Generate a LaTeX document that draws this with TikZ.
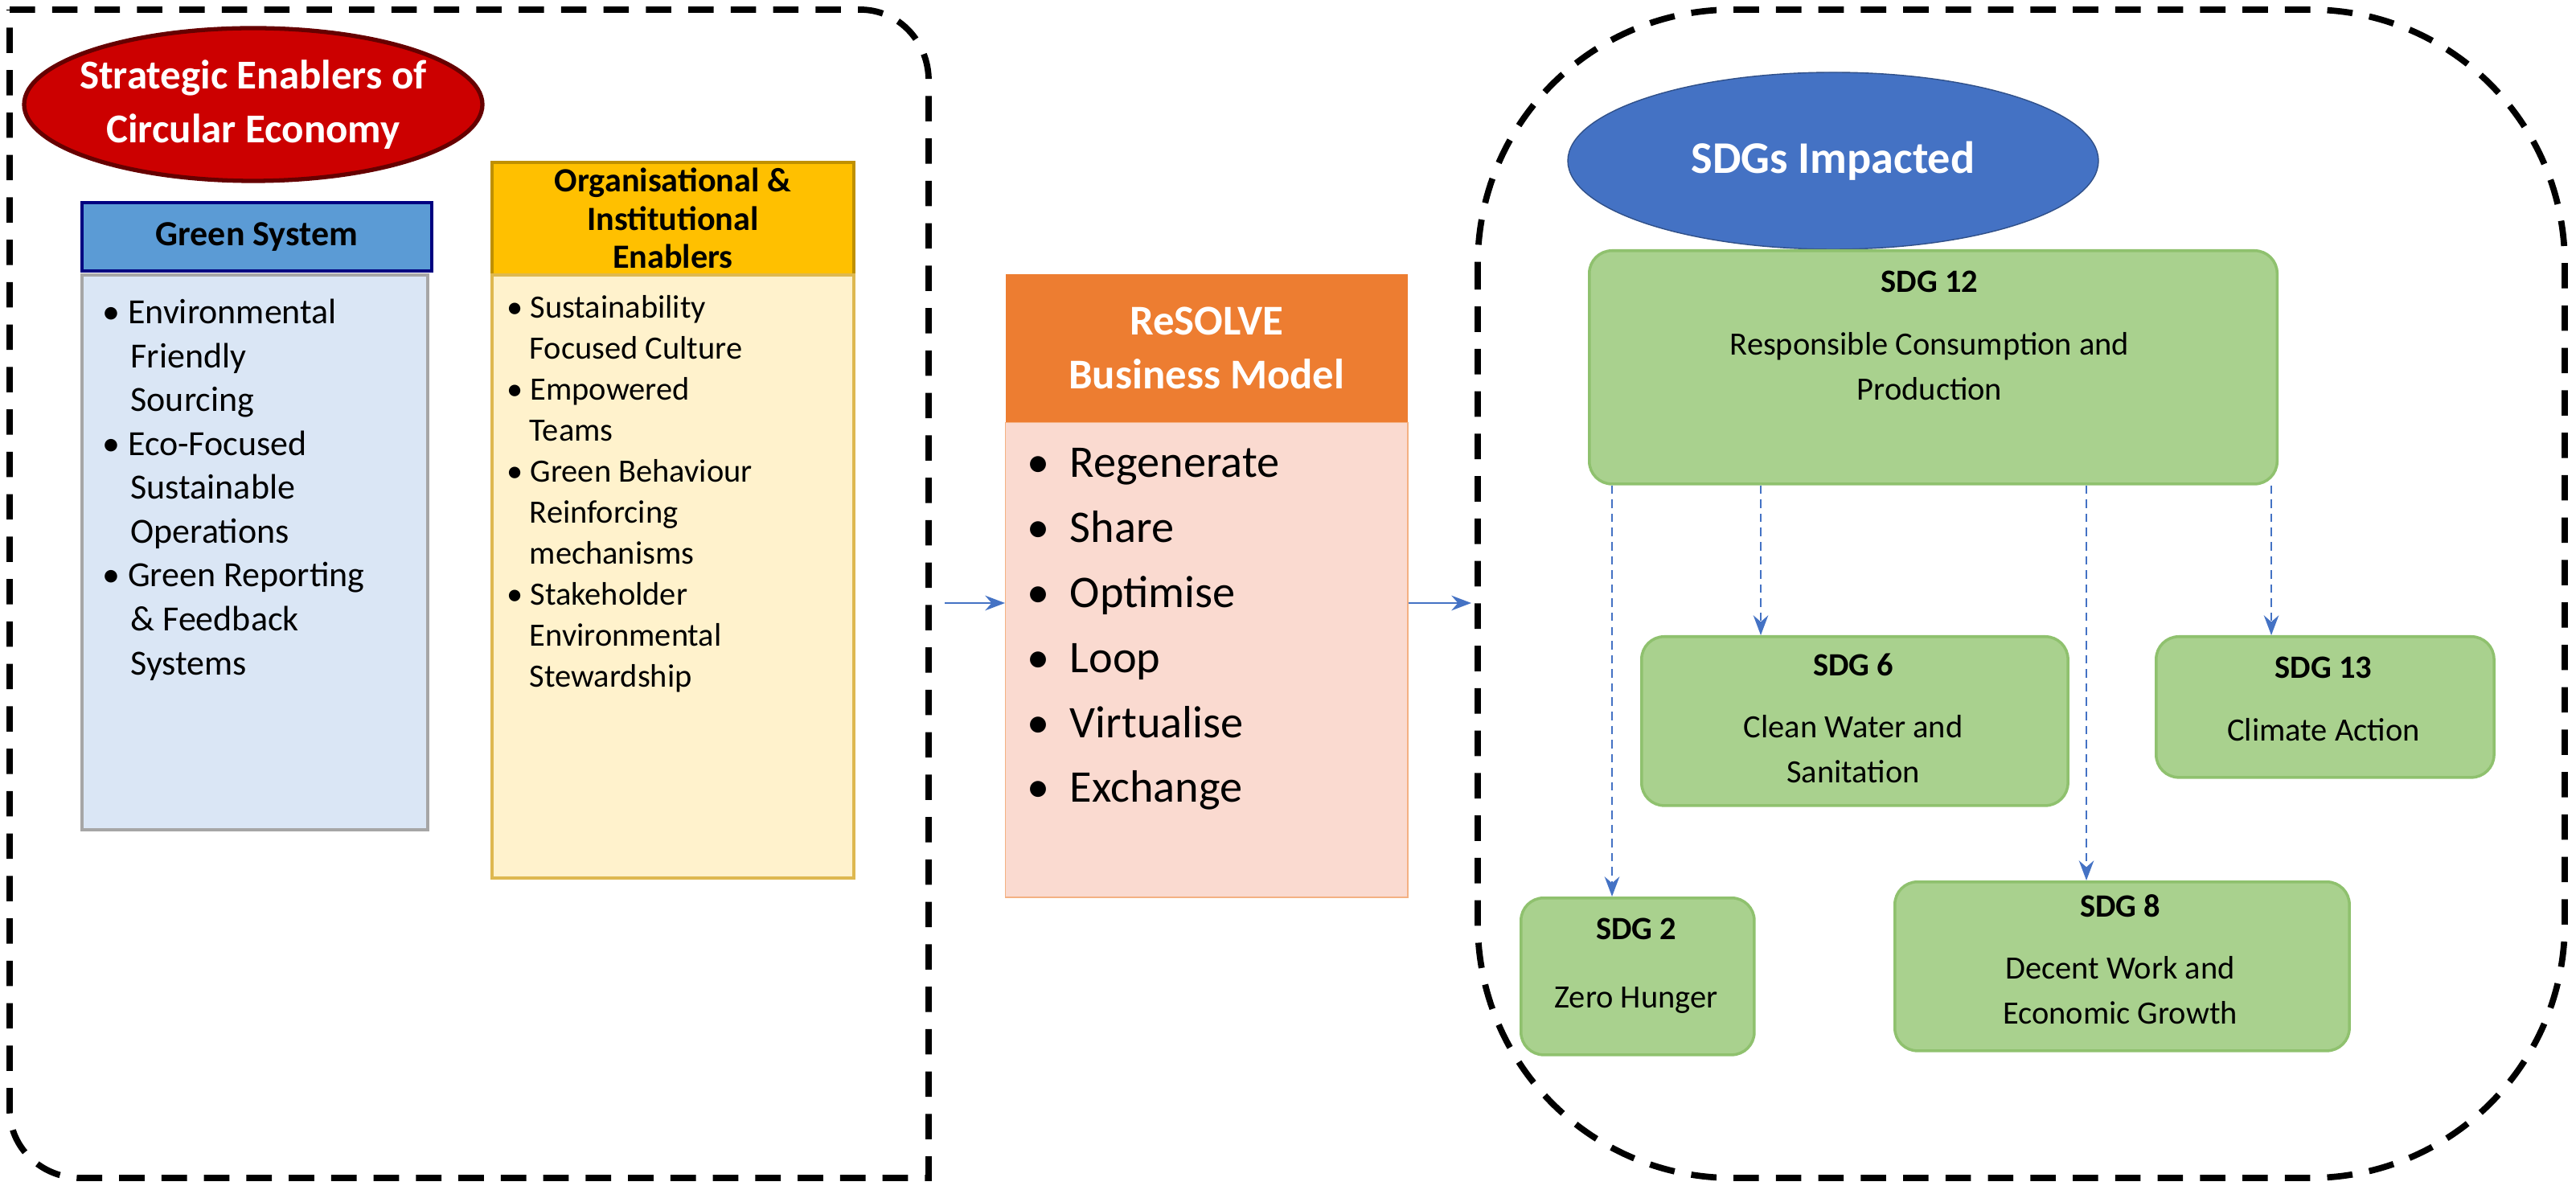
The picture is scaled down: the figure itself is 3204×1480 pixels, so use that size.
\documentclass[tikz,border=0pt]{standalone}
\usepackage{fontspec}
\setmainfont{Carlito}
\usetikzlibrary{arrows.meta,shapes.geometric}
\definecolor{sdgfill}{HTML}{A9D18E}
\definecolor{sdgline}{HTML}{8FC16E}
\definecolor{arr}{HTML}{4472C4}
\tikzset{
 px/.style={x=0.01cm,y=-0.01cm},
 frame/.style={draw,line width=2.2pt,dash pattern=on 9pt off 6pt},
 sdg/.style={draw=sdgline,fill=sdgfill,rounded corners=8pt,line width=1pt,inner sep=0,anchor=north west},
 sdgt/.style={font=\fontsize{11.5}{16}\selectfont,align=center},
 conn/.style={draw=arr,line width=0.8pt,-{Stealth[length=7pt]}},
 dconn/.style={conn,dash pattern=on 3pt off 2pt},
 bul/.style={align=left,anchor=north west,font=\fontsize{12.5}{15.5}\selectfont},
}
\begin{document}
\begin{tikzpicture}[px]
\useasboundingbox (0,0) rectangle (3204,1480);
% frames
\draw[frame] (12,12) -- (1070,12) to[out=0,in=90] (1155,100) -- (1155,1465) -- (100,1465) to[out=180,in=-90] (12,1380) -- cycle;
\draw[frame,rounded corners=90pt] (1838,12) rectangle (3190,1465);
% red ellipse
\fill[red!80!black,draw=red!40!black,line width=1.5pt] (315,130) ellipse [x radius=285,y radius=95];
\node (redt) at (315,130) [text=white,font=\bfseries\fontsize{14.5}{19}\selectfont,align=center] {Strategic Enablers of\\Circular Economy};
% green system
\node (gsh) [draw=blue!50!black,fill={rgb,255:red,91;green,155;blue,213},minimum width=4.35cm,minimum height=0.85cm,anchor=north west,inner sep=0,line width=1pt,font=\bfseries\fontsize{12.5}{15}\selectfont] at (100,250) {Green System};
\node (gsb) [draw=gray!70,fill={rgb,255:red,218;green,230;blue,245},minimum width=4.3cm,minimum height=6.9cm,anchor=north west,inner sep=0,line width=1pt] at (100,340) {};
\node[bul] at (115,360) {\textbullet\ Environmental\\\hspace*{0.8em}Friendly\\\hspace*{0.8em}Sourcing\\\textbullet\ Eco-Focused\\\hspace*{0.8em}Sustainable\\\hspace*{0.8em}Operations\\\textbullet\ Green Reporting\\\hspace*{0.8em}\& Feedback\\\hspace*{0.8em}Systems};
% organisational
\node (orh) [draw={rgb,255:red,191;green,144;blue,0},fill={rgb,255:red,255;green,192;blue,0},minimum width=4.5cm,minimum height=1.4cm,anchor=north west,inner sep=0,line width=1pt,align=center,font=\bfseries\fontsize{12}{13.5}\selectfont] at (610,200) {Organisational \&\\Institutional\\Enablers};
\node (orb) [draw={rgb,255:red,222;green,184;blue,80},fill={rgb,255:red,255;green,242;blue,204},minimum width=4.5cm,minimum height=7.5cm,anchor=north west,inner sep=0,line width=1pt] at (610,340) {};
\node[bul,font=\fontsize{11.5}{14.5}\selectfont] at (618,355) {\textbullet\ Sustainability\\\hspace*{0.7em}Focused Culture\\\textbullet\ Empowered\\\hspace*{0.7em}Teams\\\textbullet\ Green Behaviour\\\hspace*{0.7em}Reinforcing\\\hspace*{0.7em}mechanisms\\\textbullet\ Stakeholder\\\hspace*{0.7em}Environmental\\\hspace*{0.7em}Stewardship};
% resolve
\node (rsh) [fill={rgb,255:red,237;green,125;blue,49},minimum width=5cm,minimum height=1.85cm,anchor=north west,inner sep=0,text=white,align=center,font=\bfseries\fontsize{15}{19}\selectfont] at (1250,340) {ReSOLVE\\Business Model};
\node (rsb) [draw={rgb,255:red,244;green,177;blue,131},fill={rgb,255:red,250;green,218;blue,208},minimum width=5cm,minimum height=5.9cm,anchor=north west,inner sep=0] at (1250,525) {};
\node[bul,font=\fontsize{16}{23}\selectfont] at (1265,545) {\textbullet\ \ Regenerate\\\textbullet\ \ Share\\\textbullet\ \ Optimise\\\textbullet\ \ Loop\\\textbullet\ \ Virtualise\\\textbullet\ \ Exchange};
\coordinate (a1) at (1175,750);
\draw[conn] (a1) -- (rsb.west |- a1);
\coordinate (a2) at (1830,750);
\draw[conn] (rsb.east |- a2) -- (a2);
% blue ellipse
\fill[arr,draw=arr!70!black] (2280,200) ellipse [x radius=330,y radius=110];
\node (blue) at (2280,200) [text=white,font=\bfseries\fontsize{16}{22}\selectfont] {SDGs Impacted};
% sdgs
\node (s12) [sdg,minimum width=8.55cm,minimum height=2.9cm] at (1975,310) {};
\node[sdgt,anchor=north] at (2400,325) {\textbf{SDG 12}\\[6pt]Responsible Consumption and\\Production};
\node (s6) [sdg,minimum width=5.3cm,minimum height=2.1cm] at (2040,790) {};
\node[sdgt,anchor=north] at (2305,800) {\textbf{SDG 6}\\[6pt]Clean Water and\\Sanitation};
\node (s13) [sdg,minimum width=4.2cm,minimum height=1.75cm] at (2680,790) {};
\node[sdgt,anchor=north] at (2890,805) {\textbf{SDG 13}\\[6pt]Climate Action};
\node (s2) [sdg,minimum width=2.9cm,minimum height=1.95cm] at (1890,1115) {};
\node[sdgt,anchor=north] at (2035,1130) {\textbf{SDG 2}\\[8pt]Zero Hunger};
\node (s8) [sdg,minimum width=5.65cm,minimum height=2.1cm] at (2355,1095) {};
\node[sdgt,anchor=north] at (2637,1100) {\textbf{SDG 8}\\[6pt]Decent Work and\\Economic Growth};
\draw[dconn] (s12.south west -| 2005,0) -- (s2.north -| 2005,0);
\draw[dconn] (s12.south west -| 2190,0) -- (s6.north -| 2190,0);
\draw[dconn] (s12.south west -| 2595,0) -- (s8.north -| 2595,0);
\draw[dconn] (s12.south west -| 2825,0) -- (s13.north -| 2825,0);
\end{tikzpicture}
\end{document}
